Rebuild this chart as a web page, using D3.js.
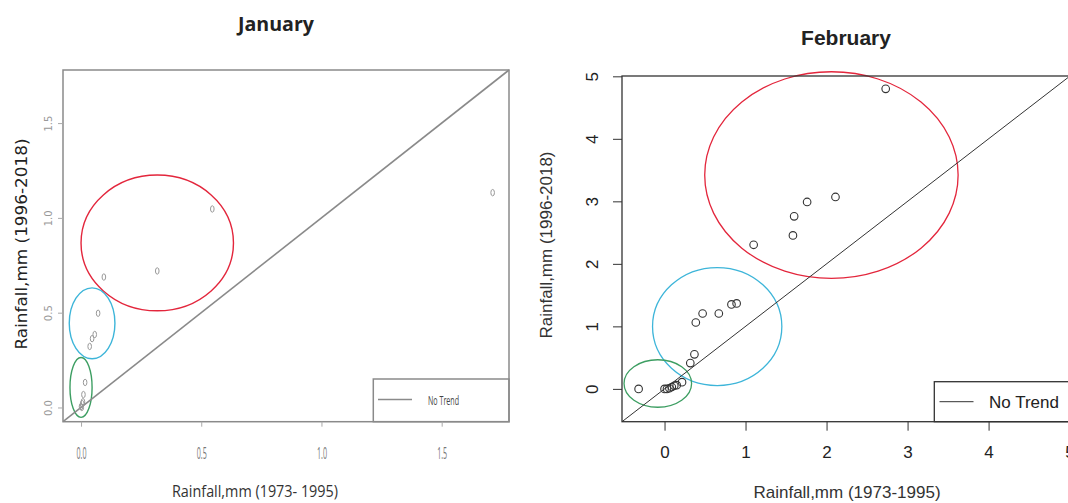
<!DOCTYPE html>
<html>
<head>
<meta charset="utf-8">
<script src="https://cdn.jsdelivr.net/npm/d3@7"></script>
<style>
  body { margin: 0; background: #fff; }
  svg { display: block; }
</style>
</head>
<body>
<div id="chart"></div>
<script>
// January: rainfall 1973-1995 (x) vs 1996-2018 (y)
var janX = [1.712, 0.546, 0.317, 0.095, 0.071, 0.057, 0.046, 0.036, 0.017, 0.010, 0.005, 0.0, 0.003, 0.008];
var janY = [1.133, 1.047, 0.720, 0.688, 0.497, 0.385, 0.363, 0.322, 0.132, 0.068, 0.020, 0.005, 0.0, 0.030];
var janTicks = [0, 0.5, 1.0, 1.5];
var janLim = [-0.075, 1.78];
// grouping ellipses (data units): cx, cy, rx, ry
var janGroups = [
  [0.317, 0.868, 0.317, 0.358],
  [0.046, 0.444, 0.095, 0.187],
  [0.0, 0.106, 0.046, 0.158]
];

// February
var febX = [2.73, 2.11, 1.76, 1.60, 1.585, 1.10, 0.89, 0.826, 0.67, 0.47, 0.386, 0.369, 0.318, 0.216, -0.32, 0.0, 0.03, 0.06, 0.09, 0.12, 0.15];
var febY = [4.80, 3.07, 2.99, 2.76, 2.455, 2.305, 1.367, 1.351, 1.206, 1.206, 1.062, 0.552, 0.413, 0.107, 0.0, 0.0, 0.0, 0.01, 0.03, 0.05, 0.06];
var febTicks = [0, 1, 2, 3, 4, 5];
var febLim = [-0.525, 5.005];
var febGroups = [
  [2.06, 3.42, 1.564, 1.653],
  [0.65, 0.997, 0.798, 0.944],
  [-0.083, 0.086, 0.417, 0.38]
];

var groupColors = ["#e3263c", "#3db5d9", "#3d9e62"];

var svg = d3.select("#chart").append("svg")
  .attr("width", 1068)
  .attr("height", 503);

// ---------- January panel ----------
var jx = d3.scaleLinear().domain(janLim).range([63, 509]);
var jy = d3.scaleLinear().domain(janLim).range([421.7, 70]);
var jan = svg.append("g");
var janGrey = "#8a8a8a";

jan.append("text")
  .attr("x", 276).attr("y", 31)
  .attr("text-anchor", "middle")
  .attr("font-family", "Open Sans, sans-serif")
  .attr("font-weight", "bold")
  .attr("font-size", 20)
  .attr("textLength", 76).attr("lengthAdjust", "spacingAndGlyphs")
  .attr("fill", "#222")
  .text("January");

jan.selectAll(".grp").data(janGroups).enter().append("ellipse")
  .attr("cx", function(d) { return jx(d[0]); })
  .attr("cy", function(d) { return jy(d[1]); })
  .attr("rx", function(d) { return jx(d[2]) - jx(0); })
  .attr("ry", function(d) { return jy(0) - jy(d[3]); })
  .attr("fill", "none")
  .attr("stroke", function(d, i) { return groupColors[i]; })
  .attr("stroke-width", 1.4);

// no-trend line
jan.append("line")
  .attr("x1", jx(janLim[0])).attr("y1", jy(janLim[0]))
  .attr("x2", jx(janLim[1])).attr("y2", jy(janLim[1]))
  .attr("stroke", janGrey).attr("stroke-width", 1.6);

jan.selectAll(".pt").data(janX).enter().append("ellipse")
  .attr("cx", function(d) { return jx(d); })
  .attr("cy", function(d, i) { return jy(janY[i]); })
  .attr("rx", 1.8).attr("ry", 3.2)
  .attr("fill", "none").attr("stroke", "#999").attr("stroke-width", 1);

// legend
jan.append("rect")
  .attr("x", 373.3).attr("y", 379)
  .attr("width", jx(janLim[1]) - 373.3).attr("height", jy(janLim[0]) - 379)
  .attr("fill", "#fff").attr("stroke", janGrey).attr("stroke-width", 1.5);
jan.append("line")
  .attr("x1", 378).attr("x2", 412).attr("y1", 399.5).attr("y2", 399.5)
  .attr("stroke", janGrey).attr("stroke-width", 1.6);
jan.append("text")
  .attr("x", 428).attr("y", 404.5)
  .attr("font-family", "Open Sans, sans-serif")
  .attr("font-size", 13)
  .attr("textLength", 31).attr("lengthAdjust", "spacingAndGlyphs")
  .attr("fill", "#444")
  .text("No Trend");

// frame
jan.append("rect")
  .attr("x", jx(janLim[0])).attr("y", jy(janLim[1]))
  .attr("width", jx(janLim[1]) - jx(janLim[0]))
  .attr("height", jy(janLim[0]) - jy(janLim[1]))
  .attr("fill", "none").attr("stroke", janGrey).attr("stroke-width", 1.5);

// axes
jan.append("g")
  .attr("transform", "translate(0," + jy(janLim[0]) + ")")
  .call(d3.axisBottom(jx).tickValues(janTicks).tickSize(5).tickFormat(d3.format(".1f")))
  .call(function(g) {
    g.select(".domain").remove();
    g.selectAll("line").attr("stroke", "#aaa");
    g.selectAll("text")
      .attr("y", 37).attr("dy", 0)
      .attr("font-family", "Open Sans, sans-serif")
      .attr("font-size", 16)
      .attr("textLength", 10).attr("lengthAdjust", "spacingAndGlyphs")
      .attr("fill", "#777");
  });

jan.append("g")
  .attr("transform", "translate(" + jx(janLim[0]) + ",0)")
  .call(d3.axisLeft(jy).tickValues(janTicks).tickSize(5).tickFormat(d3.format(".1f")))
  .call(function(g) {
    g.select(".domain").remove();
    g.selectAll("line").attr("stroke", "#aaa");
    g.selectAll("text")
      .attr("x", 0).attr("dy", 0)
      .attr("transform", "translate(-11.5,0) rotate(-90)")
      .attr("text-anchor", "middle")
      .attr("font-family", "DejaVu Sans, sans-serif")
      .attr("font-size", 10)
      .attr("fill", "#999");
  });

jan.append("text")
  .attr("transform", "translate(27," + 244 + ") rotate(-90)")
  .attr("text-anchor", "middle")
  .attr("font-family", "DejaVu Sans, sans-serif")
  .attr("font-size", 16)
  .attr("textLength", 211).attr("lengthAdjust", "spacingAndGlyphs")
  .attr("fill", "#222")
  .text("Rainfall,mm (1996-2018)");

jan.append("text")
  .attr("x", 255).attr("y", 497)
  .attr("text-anchor", "middle")
  .attr("font-family", "Open Sans, sans-serif")
  .attr("font-size", 17)
  .attr("textLength", 166).attr("lengthAdjust", "spacingAndGlyphs")
  .attr("fill", "#333")
  .text("Rainfall,mm (1973- 1995)");

// ---------- February panel ----------
var fx = d3.scaleLinear().domain(febLim).range([622, 1070]);
var fy = d3.scaleLinear().domain(febLim).range([421.7, 76]);
var feb = svg.append("g");
var febDark = "#333";

feb.append("text")
  .attr("x", 846).attr("y", 45)
  .attr("text-anchor", "middle")
  .attr("font-family", "Liberation Sans, Arial, sans-serif")
  .attr("font-weight", "bold")
  .attr("font-size", 21)
  .attr("fill", "#222")
  .text("February");

feb.selectAll(".grp").data(febGroups).enter().append("ellipse")
  .attr("cx", function(d) { return fx(d[0]); })
  .attr("cy", function(d) { return fy(d[1]); })
  .attr("rx", function(d) { return fx(d[2]) - fx(0); })
  .attr("ry", function(d) { return fy(0) - fy(d[3]); })
  .attr("fill", "none")
  .attr("stroke", function(d, i) { return groupColors[i]; })
  .attr("stroke-width", 1.3);

feb.append("line")
  .attr("x1", fx(febLim[0])).attr("y1", fy(febLim[0]))
  .attr("x2", fx(febLim[1])).attr("y2", fy(febLim[1]))
  .attr("stroke", febDark).attr("stroke-width", 1);

feb.selectAll(".pt").data(febX).enter().append("circle")
  .attr("cx", function(d) { return fx(d); })
  .attr("cy", function(d, i) { return fy(febY[i]); })
  .attr("r", 3.8)
  .attr("fill", "none").attr("stroke", febDark).attr("stroke-width", 1.1);

// legend
feb.append("rect")
  .attr("x", 934.3).attr("y", 381.7)
  .attr("width", fx(febLim[1]) - 934.3).attr("height", fy(febLim[0]) - 381.7)
  .attr("fill", "#fff").attr("stroke", febDark).attr("stroke-width", 1.3);
feb.append("line")
  .attr("x1", 939.5).attr("x2", 973.5).attr("y1", 401.7).attr("y2", 401.7)
  .attr("stroke", febDark).attr("stroke-width", 1);
feb.append("text")
  .attr("x", 989).attr("y", 408)
  .attr("font-family", "Liberation Sans, Arial, sans-serif")
  .attr("font-size", 17)
  .attr("fill", "#222")
  .text("No Trend");

feb.append("rect")
  .attr("x", fx(febLim[0])).attr("y", fy(febLim[1]))
  .attr("width", fx(febLim[1]) - fx(febLim[0]))
  .attr("height", fy(febLim[0]) - fy(febLim[1]))
  .attr("fill", "none").attr("stroke", febDark).attr("stroke-width", 1.3);

feb.append("g")
  .attr("transform", "translate(0," + fy(febLim[0]) + ")")
  .call(d3.axisBottom(fx).tickValues(febTicks).tickSize(9).tickFormat(d3.format("d")))
  .call(function(g) {
    g.select(".domain").remove();
    g.selectAll("line").attr("stroke", febDark);
    g.selectAll("text")
      .attr("y", 36).attr("dy", 0)
      .attr("font-family", "Liberation Sans, Arial, sans-serif")
      .attr("font-size", 17)
      .attr("fill", "#222");
  });

feb.append("g")
  .attr("transform", "translate(" + fx(febLim[0]) + ",0)")
  .call(d3.axisLeft(fy).tickValues(febTicks).tickSize(9).tickFormat(d3.format("d")))
  .call(function(g) {
    g.select(".domain").remove();
    g.selectAll("line").attr("stroke", febDark);
    g.selectAll("text")
      .attr("x", 0).attr("dy", 0)
      .attr("transform", "translate(-24,0) rotate(-90)")
      .attr("text-anchor", "middle")
      .attr("font-family", "Liberation Sans, Arial, sans-serif")
      .attr("font-size", 17)
      .attr("fill", "#222");
  });

feb.append("text")
  .attr("transform", "translate(552,245) rotate(-90)")
  .attr("text-anchor", "middle")
  .attr("font-family", "Liberation Sans, Arial, sans-serif")
  .attr("font-size", 17)
  .attr("fill", "#333")
  .text("Rainfall,mm (1996-2018)");

feb.append("text")
  .attr("x", 847).attr("y", 498)
  .attr("text-anchor", "middle")
  .attr("font-family", "Liberation Sans, Arial, sans-serif")
  .attr("font-size", 17)
  .attr("fill", "#333")
  .text("Rainfall,mm (1973-1995)");
</script>
</body>
</html>
